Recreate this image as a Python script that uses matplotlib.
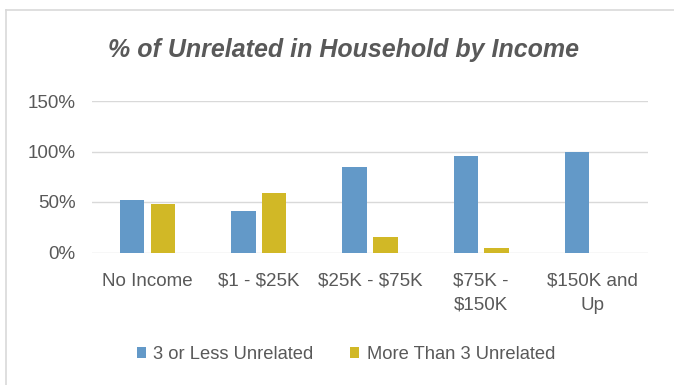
import matplotlib
matplotlib.use("Agg")
import matplotlib.pyplot as plt
import numpy as np

categories = ["No Income", "$1 - $25K", "$25K - $75K", "$75K -\n$150K", "$150K and\nUp"]
series_names = ["3 or Less Unrelated", "More Than 3 Unrelated"]
less3 = [52, 41, 85, 96, 100]
more3 = [48, 59, 15, 4, 0]
yticks = [0, 50, 100, 150]

plt.rcParams['font.family'] = ['Liberation Sans', 'DejaVu Sans']
plt.rcParams['text.parse_math'] = False

blue = "#6399C8"
gold = "#D1B826"
tc = "#595959"

fig = plt.figure(figsize=(6.74, 3.85), dpi=100)
# outer chart frame (top and left visible)
fig.add_artist(plt.Line2D([6/674, 1], [1-10/385, 1-10/385], color="#d9d9d9", lw=1.2, transform=fig.transFigure))
fig.add_artist(plt.Line2D([6/674, 6/674], [0, 1-10/385], color="#d9d9d9", lw=1.2, transform=fig.transFigure))

ax = fig.add_axes([92/674, 1-252.5/385, (648-92)/674, (252.5-101)/385])
x = np.arange(len(categories))
w = 0.22
off = 0.138
ax.bar(x - off, less3, w, color=blue, label=series_names[0], zorder=3)
ax.bar(x + off, more3, w, color=gold, label=series_names[1], zorder=3)
ax.set_xlim(-0.5, len(categories) - 0.5)
ax.set_ylim(0, 150)
ax.set_yticks(yticks)
ax.set_yticklabels([f"{v}%" for v in yticks], color=tc, fontsize=13.5)
ax.yaxis.grid(True, color="#d9d9d9", lw=1)
ax.set_axisbelow(True)
for s in ax.spines.values():
    s.set_visible(False)
ax.tick_params(axis='both', length=0)
ax.tick_params(axis='y', pad=12)
ax.set_xticks(x)
ax.set_xticklabels(categories, color=tc, fontsize=13.5, linespacing=1.55)
ax.tick_params(axis='x', pad=14.5)

fig.text(343/674, 1-49.5/385, "% of Unrelated in Household by Income", ha='center', va='center',
         fontsize=18, fontweight='bold', fontstyle='italic', color=tc)

leg = fig.legend(loc='center', bbox_to_anchor=(346/674, 1-354.5/385), ncol=2, frameon=False,
                 fontsize=13.2, handlelength=0.5, handleheight=0.5, handletextpad=0.4,
                 columnspacing=2.0)
for t in leg.get_texts():
    t.set_color(tc)

fig.savefig("out.png", dpi=100)
